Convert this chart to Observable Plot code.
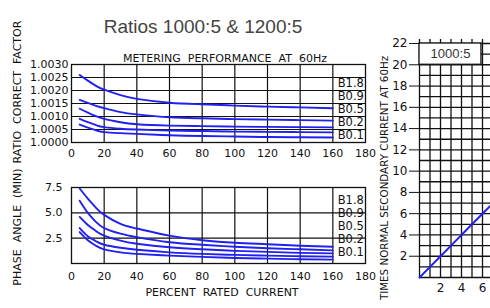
<!DOCTYPE html>
<html>
<head>
<meta charset="utf-8">
<script src="https://cdn.jsdelivr.net/npm/d3@7"></script>
<script src="https://cdn.jsdelivr.net/npm/@observablehq/plot@0.6"></script>
<style>
  html, body { margin: 0; padding: 0; background: #fff; overflow: hidden; }
  #root { position: relative; width: 490px; height: 308px; overflow: hidden; background: #fff; }
  .abs { position: absolute; }
  .abs svg { max-width: none !important; }
  .lbl { position: absolute; white-space: pre; font-family: "DejaVu Sans", sans-serif; font-size: 11px; color: #111; line-height: 1; }
  .rot { transform: translate(-50%, -50%) rotate(-90deg); }
  .ctr { transform: translate(-50%, -50%); }
</style>
</head>
<body>
<div id="root"></div>
<script>
// ---------- data ----------
const seriesNames = ["B1.8", "B0.9", "B0.5", "B0.2", "B0.1"];
const pct = [5, 10, 15, 20, 30, 40, 60, 80, 100, 120, 140, 160];

// Ratio correction factor
const rcfB18 = [1.00260, 1.00238, 1.00218, 1.00203, 1.00182, 1.00168, 1.00153, 1.00147, 1.00142, 1.00138, 1.00135, 1.00132];
const rcfB09 = [1.00164, 1.00152, 1.00141, 1.00132, 1.00117, 1.00108, 1.00097, 1.00093, 1.00090, 1.00088, 1.00086, 1.00084];
const rcfB05 = [1.00130, 1.00115, 1.00101, 1.00091, 1.00078, 1.00070, 1.00065, 1.00063, 1.00061, 1.00060, 1.00059, 1.00058];
const rcfB02 = [1.00091, 1.00078, 1.00067, 1.00059, 1.00053, 1.00050, 1.00046, 1.00044, 1.00042, 1.00041, 1.00040, 1.00039];
const rcfB01 = [1.00069, 1.00057, 1.00047, 1.00040, 1.00036, 1.00033, 1.00028, 1.00025, 1.00023, 1.00021, 1.00020, 1.00019];

// Phase angle (minutes)
const phB18 = [7.4, 6.4, 5.5, 4.8, 3.9, 3.45, 2.75, 2.3, 2.05, 1.9, 1.75, 1.65];
const phB09 = [6.2, 5.0, 4.1, 3.5, 2.95, 2.6, 2.1, 1.85, 1.65, 1.5, 1.4, 1.3];
const phB05 = [4.6, 3.8, 3.2, 2.75, 2.25, 1.95, 1.6, 1.4, 1.25, 1.15, 1.05, 1.0];
const phB02 = [3.5, 2.7, 2.2, 1.85, 1.55, 1.35, 1.1, 0.95, 0.85, 0.78, 0.72, 0.68];
const phB01 = [3.1, 2.3, 1.75, 1.4, 1.1, 0.95, 0.78, 0.65, 0.55, 0.48, 0.42, 0.38];

// Excitation (times normal secondary current)
const excX = [0, 1, 2, 3, 4, 5, 6, 7, 8];
const excY = [0, 1, 2, 3, 4, 5, 6, 7, 8];

// ticks / labels
const pctTicks = [0, 20, 40, 60, 80, 100, 120, 140, 160, 180];
const pctGrid = [20, 40, 60, 80, 100, 120, 140, 160];
const rcfTicks = [1.0000, 1.0005, 1.0010, 1.0015, 1.0020, 1.0025, 1.0030];
const phTicks = [2.5, 5.0, 7.5];
const excYTicks = [2, 4, 6, 8, 10, 12, 14, 16, 18, 20, 22];
const excXTicks = [2, 4, 6];
const excXGrid = [0, 1, 2, 3, 4, 5, 6, 7, 8, 9, 10];
const excYGrid = [0, 1, 2, 3, 4, 5, 6, 7, 8, 9, 10, 11, 12, 13, 14, 15, 16, 17, 18, 19, 20, 21, 22];
const ratioBoxLabel = "1000:5";

const titleText = "Ratios 1000:5 & 1200:5";
const subtitleText = "METERING  PERFORMANCE  AT  60Hz";
const rcfLabel = "RATIO  CORRECT  FACTOR";
const phLabel = "PHASE  ANGLE  (MIN)";
const xLabel = "PERCENT  RATED  CURRENT";
const excLabel = "TIMES NORMAL SECONDARY CURRENT AT 60Hz";

// ---------- build ----------
const blue = "#2020f2";
const gridStroke = "#111";
const legendX = 163;

function tidy(arrs) {
  return arrs.flatMap((arr, s) => arr.map((v, i) => ({x: pct[i], y: v, s: seriesNames[s]})));
}
const rcfRows = tidy([rcfB18, rcfB09, rcfB05, rcfB02, rcfB01]);
const phRows = tidy([phB18, phB09, phB05, phB02, phB01]);
const excRows = excX.map((x, i) => ({x, y: excY[i]}));

const root = document.getElementById("root");
function place(el, left, top, w) {
  const d = document.createElement("div");
  d.className = "abs";
  d.style.left = left + "px";
  d.style.top = top + "px";
  d.style.width = w + "px";
  d.appendChild(el);
  root.appendChild(d);
}
function label(text, cx, cy, cls, extra) {
  const d = document.createElement("div");
  d.className = "lbl " + cls;
  d.textContent = text;
  d.style.left = cx + "px";
  d.style.top = cy + "px";
  Object.assign(d.style, extra || {});
  root.appendChild(d);
}

const baseStyle = {fontFamily: "DejaVu Sans, sans-serif", fontSize: "11px", color: "#111", background: "transparent", overflow: "visible", maxWidth: "none"};

// legend label y positions: evenly stepped in pixels from the frame top
function legendYs(domainTop, unitsPerPx, firstPx, stepPx) {
  return seriesNames.map((_, i) => domainTop - (firstPx + i * stepPx) * unitsPerPx);
}

// Top chart: ratio correction factor
{
  const h = 162, mt = 64, mb = 20;
  const upp = (rcfTicks[rcfTicks.length - 1] - rcfTicks[0]) / (h - mt - mb);
  const ly = legendYs(rcfTicks[rcfTicks.length - 1], upp, 19, 13);
  const chart = Plot.plot({
    width: 380, height: h,
    marginLeft: 71, marginRight: 15, marginTop: mt, marginBottom: mb,
    style: baseStyle,
    x: {domain: [0, 180], ticks: pctTicks, tickSize: 0, tickPadding: 7, tickFormat: d => String(d), label: null},
    y: {domain: [rcfTicks[0], rcfTicks[rcfTicks.length - 1]], ticks: rcfTicks, tickSize: 0, tickPadding: 3, tickFormat: d => d.toFixed(4), label: null},
    marks: [
      Plot.ruleX(pctGrid, {stroke: gridStroke, strokeWidth: 1.2}),
      Plot.ruleY(rcfTicks, {stroke: gridStroke, strokeWidth: 1.2}),
      Plot.frame({stroke: gridStroke, strokeWidth: 1.3}),
      Plot.line(rcfRows, {x: "x", y: "y", z: "s", stroke: blue, strokeWidth: 1.9, curve: "natural"}),
      Plot.text(seriesNames, {x: () => legendX, y: (d, i) => ly[i], text: d => d, textAnchor: "start", fontSize: 11.5, fill: "#111"})
    ]
  });
  place(chart, 0, 0, 380);
}

// Bottom chart: phase angle
{
  const h = 120, mt = 22, mb = 22;
  const upp = (phTicks[phTicks.length - 1] - 0) / (h - mt - mb);
  const ly = legendYs(phTicks[phTicks.length - 1], upp, 13, 13);
  const chart = Plot.plot({
    width: 380, height: h,
    marginLeft: 71, marginRight: 15, marginTop: mt, marginBottom: mb,
    style: baseStyle,
    x: {domain: [0, 180], ticks: pctTicks, tickSize: 0, tickPadding: 9, tickFormat: d => String(d), label: null},
    y: {domain: [0, phTicks[phTicks.length - 1]], ticks: phTicks, tickSize: 0, tickPadding: 9, tickFormat: d => d.toFixed(1), label: null},
    marks: [
      Plot.ruleX(pctGrid, {stroke: gridStroke, strokeWidth: 1.2}),
      Plot.ruleY(phTicks, {stroke: gridStroke, strokeWidth: 1.2}),
      Plot.frame({stroke: gridStroke, strokeWidth: 1.3}),
      Plot.line(phRows, {x: "x", y: "y", z: "s", stroke: blue, strokeWidth: 1.9, curve: "natural"}),
      Plot.text(seriesNames, {x: () => legendX, y: (d, i) => ly[i], text: d => d, textAnchor: "start", fontSize: 11.5, fill: "#111"})
    ]
  });
  place(chart, 0, 165, 380);
}

// Right chart: excitation
{
  const chart = Plot.plot({
    width: 200, height: 308,
    marginLeft: 49, marginRight: 46, marginTop: 43, marginBottom: 31,
    style: {...baseStyle, fontSize: "12px"},
    x: {domain: [0, excXGrid[excXGrid.length - 1]], ticks: excXTicks, tickSize: 0, tickPadding: 6, tickFormat: d => String(d), label: null},
    y: {domain: [0, excYGrid[excYGrid.length - 1]], ticks: excYTicks, tickSize: 10, tickPadding: 2, tickFormat: d => String(d), label: null},
    marks: [
      Plot.ruleX(excXGrid, {stroke: gridStroke, strokeWidth: 1.3, insetTop: -4}),
      Plot.ruleY(excYGrid, {stroke: gridStroke, strokeWidth: 1.3}),
      Plot.rect([ratioBoxLabel], {x1: () => 0, x2: () => 5.9, y1: () => 20, y2: () => 22, fill: "#fff", stroke: gridStroke, strokeWidth: 1.3}),
      Plot.text([ratioBoxLabel], {x: () => 2.95, y: () => 21, text: d => d, fontSize: 13, fontFamily: "Liberation Sans, Arial, sans-serif", fill: "#333"}),
      Plot.line(excRows, {x: "x", y: "y", stroke: blue, strokeWidth: 2})
    ]
  });
  place(chart, 370, 0, 200);
}

// ---------- texts ----------
label(titleText, 203, 26, "ctr", {fontFamily: "Liberation Sans, Arial, sans-serif", fontSize: "19px", color: "#444"});
label(subtitleText, 225, 58, "ctr", {fontSize: "11px"});
label(rcfLabel, 17, 92, "rot", {fontSize: "11px"});
label(phLabel, 17, 227, "rot", {fontSize: "11px"});
label(xLabel, 222, 292, "ctr", {fontSize: "11px"});
label(excLabel, 384, 178, "rot", {fontSize: "10.3px"});
</script>
</body>
</html>
